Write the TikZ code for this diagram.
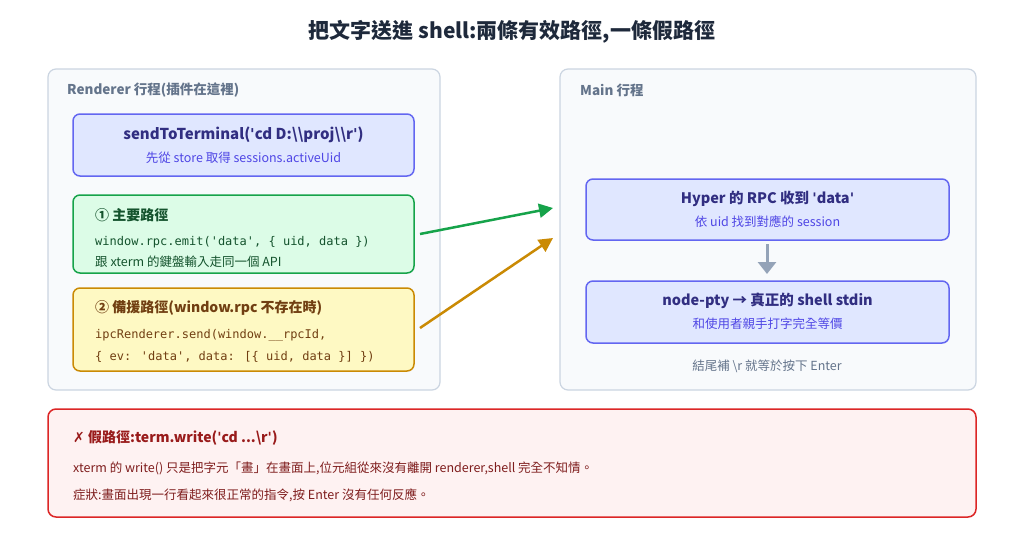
\documentclass[tikz,border=0pt]{standalone}
\usepackage{fontspec}
\setmainfont{Noto Sans CJK TC}
\newfontfamily\codefont{DejaVu Sans Mono}
\newfontfamily\symfont{DejaVu Sans}
\newcommand{\sq}{{\symfont\textquotesingle}}
\usetikzlibrary{arrows.meta}
\definecolor{panelfill}{HTML}{F8FAFC}
\definecolor{panelline}{HTML}{CBD5E1}
\definecolor{bfill}{HTML}{E0E7FF}
\definecolor{bline}{HTML}{6366F1}
\definecolor{btitle}{HTML}{312E81}
\definecolor{bsub}{HTML}{4F46E5}
\definecolor{gfill}{HTML}{DCFCE7}
\definecolor{gline}{HTML}{16A34A}
\definecolor{gtext}{HTML}{14532D}
\definecolor{yfill}{HTML}{FEF9C3}
\definecolor{yline}{HTML}{CA8A04}
\definecolor{ytext}{HTML}{713F12}
\definecolor{rfill}{HTML}{FEF2F2}
\definecolor{rline}{HTML}{DC2626}
\definecolor{rtitle}{HTML}{991B1B}
\definecolor{rtext}{HTML}{7F1D1D}
\definecolor{graytext}{HTML}{64748B}
\definecolor{arrgray}{HTML}{94A3B8}
\definecolor{titlec}{HTML}{1E293B}
\begin{document}
\begin{tikzpicture}[x=1pt,y=-1pt,
  panel/.style={draw=panelline,fill=panelfill,line width=1.2pt,rounded corners=8pt},
  bbox/.style={draw=bline,fill=bfill,line width=1.5pt,rounded corners=7pt},
  lbl/.style={inner sep=0pt,anchor=west},
  ctr/.style={inner sep=0pt,anchor=center},
  code/.style={inner sep=0pt,anchor=west,font=\codefont\fontsize{12}{14}\selectfont},
  flow/.style={line width=2.5pt,-{Triangle[length=14pt,width=14pt]}}]
\useasboundingbox (0,0) rectangle (1024,536);
\fill[white] (0,0) rectangle (1024,536);
\node[ctr,font=\bfseries\fontsize{21}{24}\selectfont,text=titlec] (title) at (512,32) {把文字送進 shell:兩條有效路徑,一條假路徑};
% panels
\draw[panel] (48,69) rectangle (440,390);
\draw[panel] (560,69) rectangle (976,390);
\node[lbl,font=\bfseries\fontsize{13.5}{16}\selectfont,text=graytext] (lp) at (67,90) {Renderer 行程(插件在這裡)};
\node[lbl,font=\bfseries\fontsize{13.5}{16}\selectfont,text=graytext] (rp) at (580,90) {Main 行程};
% box1
\draw[bbox] (73,114) rectangle (414,176);
\node[ctr,font=\bfseries\fontsize{15}{18}\selectfont,text=btitle] (b1t) at (243.5,135) {sendToTerminal(\sq cd D:\textbackslash\textbackslash proj\textbackslash\textbackslash r\sq)};
\node[ctr,font=\fontsize{12.5}{15}\selectfont,text=bsub] (b1s) at (243.5,158) {先從 store 取得 sessions.activeUid};
% box2
\draw[draw=gline,fill=gfill,line width=1.5pt,rounded corners=7pt] (73,195) rectangle (414,273);
\node[lbl,font=\bfseries\fontsize{14}{16}\selectfont,text=gtext] (g1) at (95,215) {① 主要路徑};
\node[code,text=gtext] (g2) at (95,242) {window.rpc.emit('data', \{ uid, data \})};
\node[lbl,font=\fontsize{12.5}{15}\selectfont,text=gtext] (g3) at (95,262) {跟 xterm 的鍵盤輸入走同一個 API};
\coordinate (gout) at (420,234);
% box3
\draw[draw=yline,fill=yfill,line width=1.5pt,rounded corners=7pt] (73,288) rectangle (414,371);
\node[lbl,font=\bfseries\fontsize{14}{16}\selectfont,text=ytext] (y1) at (95,308) {② 備援路徑(window.rpc 不存在時)};
\node[code,text=ytext] (y2) at (95,335) {ipcRenderer.send(window.\_\_rpcId,};
\node[code,text=ytext] (y3) at (95,357) {\{ ev: 'data', data: [\{ uid, data \}] \})};
\coordinate (yout) at (420,328);
% right boxes
\draw[bbox] (586,179) rectangle (949,240);
\node[ctr,font=\bfseries\fontsize{14.5}{17}\selectfont,text=btitle] (m1t) at (767.5,199) {Hyper 的 RPC 收到 \sq data\sq};
\node[ctr,font=\fontsize{12.5}{15}\selectfont,text=bsub] (m1s) at (767.5,222) {依 uid 找到對應的 session};
\draw[bbox] (586,281) rectangle (949,343);
\node[ctr,font=\bfseries\fontsize{14.5}{17}\selectfont,text=btitle] (m2t) at (767.5,301) {node-pty → 真正的 shell stdin};
\node[ctr,font=\fontsize{12.5}{15}\selectfont,text=bsub] (m2s) at (767.5,324) {和使用者親手打字完全等價};
\coordinate (a1) at (767,244);
\coordinate (a2) at (767,274);
\draw[arrgray,line width=3pt,-{Triangle[length=12pt,width=18pt]}] (a1) -- (a2);
\node[ctr,font=\fontsize{12.5}{15}\selectfont,text=graytext] (note) at (767,366) {結尾補 \textbackslash r 就等於按下 Enter};
\coordinate (gin) at (553,208);
\coordinate (yin) at (553,238);
\draw[flow,gline] (gout) -- (gin);
\draw[flow,yline] (yout) -- (yin);
% bottom
\draw[draw=rline,fill=rfill,line width=1.5pt,rounded corners=8pt] (48,409) rectangle (976,517);
\node[lbl,font=\bfseries\fontsize{14}{16}\selectfont,text=rtitle] (r1) at (73,438) {{\symfont\mdseries ✗} 假路徑:term.write(\sq cd ...\textbackslash r\sq)};
\node[lbl,font=\fontsize{12.5}{15}\selectfont,text=rtext] (r2) at (73,468) {xterm 的 write() 只是把字元「畫」在畫面上,位元組從來沒有離開 renderer,shell 完全不知情。};
\node[lbl,font=\fontsize{12.5}{15}\selectfont,text=rtext] (r3) at (73,495) {症狀:畫面出現一行看起來很正常的指令,按 Enter 沒有任何反應。};
\end{tikzpicture}
\end{document}
